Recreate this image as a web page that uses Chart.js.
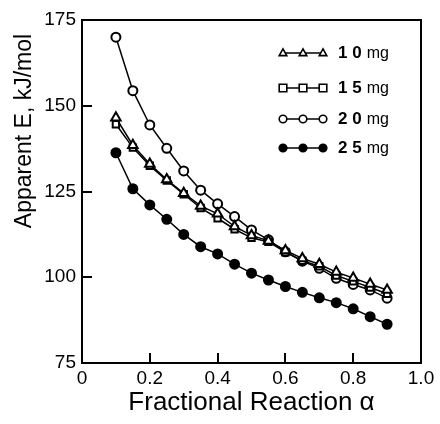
<!DOCTYPE html>
<html>
<head>
<meta charset="utf-8">
<script src="https://cdn.jsdelivr.net/npm/chart.js@4.4.1/dist/chart.umd.min.js"></script>
<style>
  html, body { margin: 0; padding: 0; background: #fff; }
</style>
</head>
<body>
<canvas id="chart" width="440" height="424"></canvas>
<script>
// Fractional reaction (x) and apparent activation energy per sample mass
const alpha = [0.1, 0.15, 0.2, 0.25, 0.3, 0.35, 0.4, 0.45, 0.5, 0.55, 0.6, 0.65, 0.7, 0.75, 0.8, 0.85, 0.9];
const mg10 = [146.5, 138.5, 133.0, 128.5, 124.5, 120.8, 118.5, 114.8, 112.2, 110.6, 107.8, 105.5, 103.8, 101.5, 99.8, 98.0, 96.3];
const mg15 = [144.6, 137.8, 132.5, 128.2, 124.2, 120.2, 117.2, 114.0, 111.5, 110.3, 107.3, 104.8, 103.2, 100.5, 98.8, 97.0, 95.2];
const mg20 = [170.0, 154.4, 144.4, 137.6, 131.0, 125.4, 121.4, 117.7, 113.8, 110.9, 107.4, 104.7, 102.6, 99.7, 97.9, 96.3, 93.9];
const mg25 = [136.3, 125.8, 121.1, 116.9, 112.5, 108.9, 106.8, 103.8, 101.2, 99.2, 97.3, 95.6, 94.0, 92.6, 90.8, 88.5, 86.3];
const yTicks = [75, 100, 125, 150, 175];
const xTicks = [0, 0.2, 0.4, 0.6, 0.8, 1.0];

const FONT = "'Liberation Sans', Arial, sans-serif";

function series(label, values, style, fill) {
    return {
        label: label,
        data: alpha.map((a, i) => ({ x: a, y: values[i] })),
        borderColor: '#000',
        borderWidth: 1.5,
        pointStyle: style,
        pointRadius: style === 'triangle' ? 5.5 : 4.5,
        pointBackgroundColor: fill,
        pointBorderColor: '#000',
        pointBorderWidth: 2,
        tension: 0,
    };
}

// marker helper for the legend
function marker(ctx, style, x, y, r, fill) {
    ctx.save();
    ctx.fillStyle = fill;
    ctx.strokeStyle = '#000';
    ctx.lineWidth = 1.6;
    ctx.beginPath();
    if (style === 'circle') {
        ctx.arc(x, y, r, 0, Math.PI * 2);
    } else if (style === 'rect') {
        ctx.rect(x - r, y - r, r * 2, r * 2);
    } else {
        ctx.moveTo(x, y - r * 1.1);
        ctx.lineTo(x + r, y + r * 0.7);
        ctx.lineTo(x - r, y + r * 0.7);
        ctx.closePath();
    }
    ctx.fill();
    ctx.stroke();
    ctx.restore();
}

const legendRows = [
    { num: '1 0', style: 'triangle', fill: '#fff', y: 53 },
    { num: '1 5', style: 'rect', fill: '#fff', y: 88 },
    { num: '2 0', style: 'circle', fill: '#fff', y: 119 },
    { num: '2 5', style: 'circle', fill: '#000', y: 148 },
];

// frame, inward ticks, y title and legend
const decor = {
    id: 'decor',
    afterDraw(chart) {
        const ctx = chart.ctx;
        const a = chart.chartArea;
        const xs = chart.scales.x, ys = chart.scales.y;
        ctx.save();
        ctx.strokeStyle = '#000';
        ctx.lineWidth = 2;
        ctx.strokeRect(a.left, a.top, a.right - a.left, a.bottom - a.top);
        ctx.beginPath();
        xTicks.slice(1, -1).forEach(v => {
            const px = Math.round(xs.getPixelForValue(v));
            ctx.moveTo(px, a.bottom);
            ctx.lineTo(px, a.bottom - 10);
        });
        yTicks.slice(1, -1).forEach(v => {
            const py = Math.round(ys.getPixelForValue(v));
            ctx.moveTo(a.left, py);
            ctx.lineTo(a.left + 10, py);
        });
        ctx.stroke();

        // y axis title
        ctx.translate(25, 131);
        ctx.rotate(-Math.PI / 2);
        ctx.fillStyle = '#000';
        ctx.font = '23px ' + FONT;
        ctx.textAlign = 'center';
        ctx.textBaseline = 'middle';
        ctx.fillText('Apparent E, kJ/mol', 0, 0);
        ctx.restore();

        // legend
        legendRows.forEach(row => {
            ctx.save();
            ctx.strokeStyle = '#000';
            ctx.lineWidth = 1.4;
            ctx.beginPath();
            ctx.moveTo(283, row.y);
            ctx.lineTo(323, row.y);
            ctx.stroke();
            [283, 303, 323].forEach(x => marker(ctx, row.style, x, row.y, 3.8, row.fill));
            ctx.fillStyle = '#000';
            ctx.textBaseline = 'middle';
            ctx.font = 'bold 17px ' + FONT;
            ctx.fillText(row.num, 338, row.y);
            const w = ctx.measureText(row.num).width;
            ctx.font = '16px ' + FONT;
            ctx.fillText('mg', 338 + w + 5, row.y + 1);
            ctx.restore();
        });
    }
};

new Chart(document.getElementById('chart'), {
    type: 'line',
    data: {
        datasets: [
            series('10 mg', mg10, 'triangle', '#fff'),
            series('15 mg', mg15, 'rect', '#fff'),
            series('20 mg', mg20, 'circle', '#fff'),
            series('25 mg', mg25, 'circle', '#000'),
        ]
    },
    options: {
        responsive: false,
        animation: false,
        layout: { padding: { top: 20, right: 19, left: 0, bottom: 0 } },
        plugins: {
            legend: { display: false },
            tooltip: { enabled: false },
        },
        scales: {
            x: {
                type: 'linear',
                min: 0,
                max: 1,
                afterBuildTicks: s => { s.ticks = xTicks.map(v => ({ value: v })); },
                afterFit: s => { s.height = 61; },
                grid: { display: false, tickLength: 0 },
                border: { display: false },
                ticks: {
                    color: '#000',
                    padding: 4,
                    font: { family: FONT, size: 19 },
                    callback: v => (v === 0 ? '0' : v.toFixed(1)),
                },
                title: {
                    display: true,
                    text: 'Fractional Reaction α',
                    color: '#000',
                    font: { family: FONT, size: 26 },
                    padding: { top: 0, bottom: 6 },
                },
            },
            y: {
                min: 75,
                max: 175,
                afterBuildTicks: s => { s.ticks = yTicks.map(v => ({ value: v })); },
                afterFit: s => { s.width = 82; },
                grid: { display: false, tickLength: 0 },
                border: { display: false },
                ticks: {
                    color: '#000',
                    padding: 6,
                    font: { family: FONT, size: 19 },
                },
            },
        },
    },
    plugins: [decor],
});
</script>
</body>
</html>
